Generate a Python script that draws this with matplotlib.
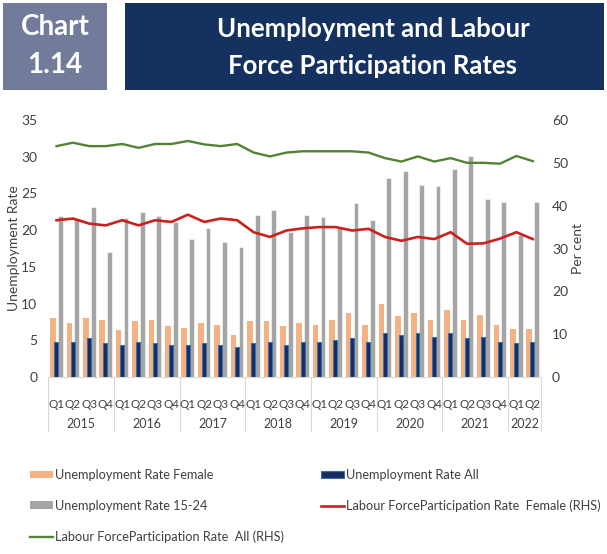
import numpy as np
import matplotlib
matplotlib.use("Agg")
import matplotlib.pyplot as plt
from matplotlib.patches import Rectangle, Patch
from matplotlib.lines import Line2D

plt.rcParams['font.family'] = ['Lato', 'DejaVu Sans']

# quarterly data, 2015 Q1 .. 2022 Q2
years = ['2015', '2016', '2017', '2018', '2019', '2020', '2021', '2022']
quarters = ['Q1', 'Q2', 'Q3', 'Q4'] * 7 + ['Q1', 'Q2']

unemp_female = [8.1, 7.35, 8.1, 7.8, 6.45, 7.6, 7.8, 6.9, 6.7, 7.35, 7.1, 5.75, 7.6, 7.6, 6.9,
                7.35, 7.1, 7.8, 8.7, 7.1, 9.9, 8.25, 8.7, 7.8, 9.15, 7.8, 8.5, 7.1, 6.6, 6.6]
unemp_all = [4.8, 4.8, 5.25, 4.6, 4.35, 4.8, 4.6, 4.35, 4.35, 4.6, 4.35, 4.1, 4.6, 4.8, 4.35,
             4.8, 4.8, 5.05, 5.25, 4.8, 5.95, 5.7, 5.95, 5.5, 5.95, 5.25, 5.5, 4.8, 4.6, 4.8]
unemp_youth = [21.9, 21.5, 23.2, 17.0, 21.65, 22.5, 21.9, 21.15, 18.8, 20.25, 18.4, 17.7, 22.05, 22.8, 19.75,
               22.05, 21.8, 20.25, 23.65, 21.4, 27.15, 28.05, 26.2, 25.95, 28.3, 30.1, 24.3, 23.9, 19.4, 23.9]
lfpr_female = [36.6, 37.0, 35.8, 35.4, 36.6, 35.4, 36.6, 36.2, 37.9, 36.2, 37.0, 36.6, 33.8, 32.7, 34.2,
               34.7, 35.0, 35.0, 34.2, 34.6, 32.7, 31.8, 32.7, 32.2, 33.8, 31.1, 31.2, 32.3, 33.8, 32.2]
lfpr_all = [53.9, 54.7, 53.9, 53.9, 54.4, 53.5, 54.4, 54.4, 55.1, 54.3, 53.9, 54.4, 52.4, 51.5, 52.4,
            52.7, 52.7, 52.7, 52.7, 52.4, 51.1, 50.3, 51.5, 50.3, 51.1, 50.0, 50.0, 49.8, 51.6, 50.4]

c_orange = '#F4B183'
c_navy = '#1B2A5E'
c_gray = '#A5A5A5'
c_red = '#C9211E'
c_green = '#548235'
c_text = '#404040'

W, H = 607, 554
fig = plt.figure(figsize=(W / 100, H / 100), dpi=100)

# header boxes
fig.patches.append(Rectangle((3 / W, 1 - 90 / H), 104 / W, 87 / H, transform=fig.transFigure,
                             facecolor='#727B99', edgecolor='none'))
fig.patches.append(Rectangle((125 / W, 1 - 90 / H), 479 / W, 87 / H, transform=fig.transFigure,
                             facecolor='#14315F', edgecolor='none'))
fig.text(55 / W, 1 - 27 / H, 'Chart', color='white', fontsize=20, fontweight='bold', ha='center', va='center')
fig.text(55 / W, 1 - 65 / H, '1.14', color='white', fontsize=20, fontweight='bold', ha='center', va='center')
fig.text(373 / W, 1 - 29 / H, 'Unemployment and Labour', color='white', fontsize=18.5,
         fontweight='bold', ha='center', va='center')
fig.text(373 / W, 1 - 66 / H, 'Force Participation Rates', color='white', fontsize=18.5,
         fontweight='bold', ha='center', va='center')

ax = fig.add_axes([48.3 / W, 1 - 377 / H, (541 - 48.3) / W, (377 - 120) / H])
x = np.arange(len(quarters))

ax.bar(x - 0.22, unemp_female, width=0.34, color=c_orange, zorder=2)
ax.bar(x - 0.02, unemp_all, width=0.24, color=c_navy, edgecolor='#2E75B6', linewidth=0.8, zorder=3)
ax.bar(x + 0.23, unemp_youth, width=0.29, color=c_gray, edgecolor='white', linewidth=0.4, zorder=2)

ax.set_xlim(-0.5, len(quarters) - 0.5)
ax.set_ylim(0, 35)
ax.set_yticks(np.arange(0, 36, 5))
ax.set_xticks([])
ax.tick_params(axis='y', length=0, labelsize=10, labelcolor=c_text, pad=8)
for s in ['top', 'left', 'right']:
    ax.spines[s].set_visible(False)
ax.spines['bottom'].set_color('#D9D9D9')
ax.set_ylabel('Unemployment Rate', fontsize=10, color=c_text, labelpad=1)

# category axis: quarter labels, year labels, separators
trans = ax.get_xaxis_transform()
for i, q in enumerate(quarters):
    ax.text(i, -0.108, q, transform=trans, ha='center', va='center', fontsize=8.5, color=c_text)
year_pos = [1.5 + 4 * k for k in range(7)] + [28.5]
for yr, p in zip(years, year_pos):
    ax.text(p, -0.183, yr, transform=trans, ha='center', va='center', fontsize=9, color=c_text)
for b in [-0.5 + 4 * k for k in range(8)] + [len(quarters) - 0.5]:
    ax.plot([b, b], [0, -0.21], transform=trans, color='#D9D9D9', lw=0.8, clip_on=False)

ax2 = ax.twinx()
ax2.plot(x, lfpr_female, color=c_red, lw=1.9)
ax2.plot(x, lfpr_all, color=c_green, lw=1.7)
ax2.set_ylim(0, 60)
ax2.set_yticks(np.arange(0, 61, 10))
ax2.tick_params(axis='y', length=0, labelsize=10, labelcolor=c_text, pad=8)
for s in ['top', 'left', 'right', 'bottom']:
    ax2.spines[s].set_visible(False)
ax2.set_ylabel('Per cent', fontsize=10, color=c_text, labelpad=3)

handles = [
    Patch(facecolor=c_orange, edgecolor='none'),
    Patch(facecolor=c_gray, edgecolor='none'),
    Line2D([], [], color=c_green, lw=1.7),
    Patch(facecolor=c_navy, edgecolor='#2E75B6', linewidth=0.8),
    Line2D([], [], color=c_red, lw=1.9),
]
labels = ['Unemployment Rate Female', 'Unemployment Rate 15-24', 'Labour ForceParticipation Rate  All (RHS)',
          'Unemployment Rate All', 'Labour ForceParticipation Rate  Female (RHS)']
fig.legend(handles, labels, loc='upper left', bbox_to_anchor=(30 / W, 1 - 469 / H), ncol=2,
           frameon=False, fontsize=9.2, handlelength=1.8, handleheight=0.5, handletextpad=0.15,
           columnspacing=2.9, labelspacing=1.45, borderpad=0, borderaxespad=0,
           labelcolor=c_text)

fig.savefig('out.png', dpi=100)
